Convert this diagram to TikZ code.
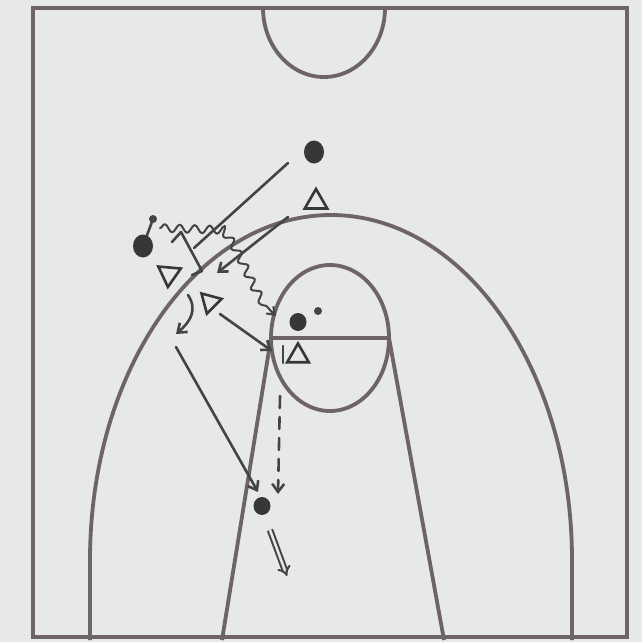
\documentclass[tikz,border=0pt]{standalone}
\usetikzlibrary{arrows.meta,shapes.geometric,decorations.pathmorphing}
\definecolor{bg}{RGB}{231,232,232}
\definecolor{court}{RGB}{110,100,103}
\definecolor{pencil}{RGB}{68,68,68}
\definecolor{ink}{RGB}{55,55,55}
\begin{document}
\begin{tikzpicture}[x=1pt,y=-1pt,
  courtline/.style={draw=court,line width=3.8pt},
  pline/.style={draw=pencil,line width=2.6pt,line cap=round,line join=round},
  move/.style={pline,-{Straight Barb[length=8pt,width=12pt]}},
  passline/.style={pline,dashed,dash pattern=on 12pt off 9pt,-{Straight Barb[length=8pt,width=12pt]}},
  shotline/.style={draw=pencil,line width=2pt,double=bg,double distance=2.5pt,-{Implies[length=11pt,width=14pt]}},
  dribble/.style={draw=pencil,line width=2pt,line cap=round,line join=round,decorate,decoration={snake,amplitude=4pt,segment length=15pt,post length=7pt},-{Straight Barb[length=7pt,width=10pt]}},
  offense/.style={ellipse,fill=ink,minimum width=20pt,minimum height=23pt,inner sep=0pt},
  smallo/.style={ellipse,fill=ink,minimum width=17pt,minimum height=18pt,inner sep=0pt},
  ballmark/.style={circle,fill=pencil,minimum size=8pt,inner sep=0pt},
  defense/.style={regular polygon,regular polygon sides=3,draw=ink,line width=2.6pt,minimum size=26pt,inner sep=0pt},
]
\useasboundingbox (0,0) rectangle (642,642);
\fill[bg] (0,0) rectangle (642,642);

% court
\draw[courtline] (33,8) rectangle (627,637);
\draw[courtline] (263,8) arc[start angle=180,end angle=0,x radius=61,y radius=69];
\draw[courtline] (90,640) -- (90,560) arc[start angle=180,end angle=360,x radius=241,y radius=345] -- (572,640);
\draw[courtline] (330,338) ellipse[x radius=59,y radius=73];
\draw[courtline] (271,338) -- (389,338);
\draw[courtline] (271,338) -- (222,640);
\draw[courtline] (389,338) -- (444,640);

% players
\node[offense] (o1) at (314,152) {};
\node[defense] (x1) at (316,202) {};
\node[offense] (o2) at (143,246) {};
\node[ballmark] (b2) at (153,219) {};
\draw[pline] (b2) -- (o2);
\node[defense,shape border rotate=175] (x2) at (169,274) {};
\node[defense,shape border rotate=165,minimum size=24pt] (x3) at (210,302) {};
\node[smallo] (o3) at (298,322) {};
\node[ballmark] (b3) at (318,311) {};
\node[defense,minimum size=25pt] (x4) at (298,356) {};
\coordinate (barT) at (283,346);
\coordinate (barB) at (283,363);
\draw[pline] (barT) -- (barB);
\node[smallo] (o4) at (262,506) {};

% screen
\coordinate (s1) at (288,163);
\coordinate (s2) at (194,248);
\draw[pline] (s1) -- (s2);
\coordinate (h1) at (172,242);
\coordinate (h2) at (181,232);
\coordinate (h3) at (202,271);
\coordinate (h4) at (192,275);
\draw[pline] (h1) -- (h2) -- (h3) -- (h4);

% cut from defender
\coordinate (c1) at (288,217);
\coordinate (c2) at (217,273);
\draw[move] (c1) -- (c2);

% dribble
\coordinate (d1) at (160,228);
\coordinate (d2) at (224,230);
\coordinate (d3) at (276,316);
\draw[dribble] (d1) -- (d2) .. controls (245,255) and (252,295) .. (d3);

% curved arrow
\coordinate (e1) at (188,295);
\coordinate (e2) at (176,334);
\draw[move] (e1) .. controls (198,310) and (190,322) .. (e2);

% long cut
\coordinate (f1) at (176,347);
\coordinate (f2) at (258,492);
\draw[move] (f1) -- (f2);

% cut to lane
\coordinate (g1) at (220,314);
\coordinate (g2) at (272,351);
\draw[move] (g1) -- (g2);

% pass
\coordinate (p1) at (280,396);
\coordinate (p2) at (278,494);
\draw[passline] (p1) -- (p2);

% shot
\coordinate (t1) at (270,530);
\coordinate (t2) at (287,576);
\draw[shotline] (t1) -- (t2);
\end{tikzpicture}
\end{document}
